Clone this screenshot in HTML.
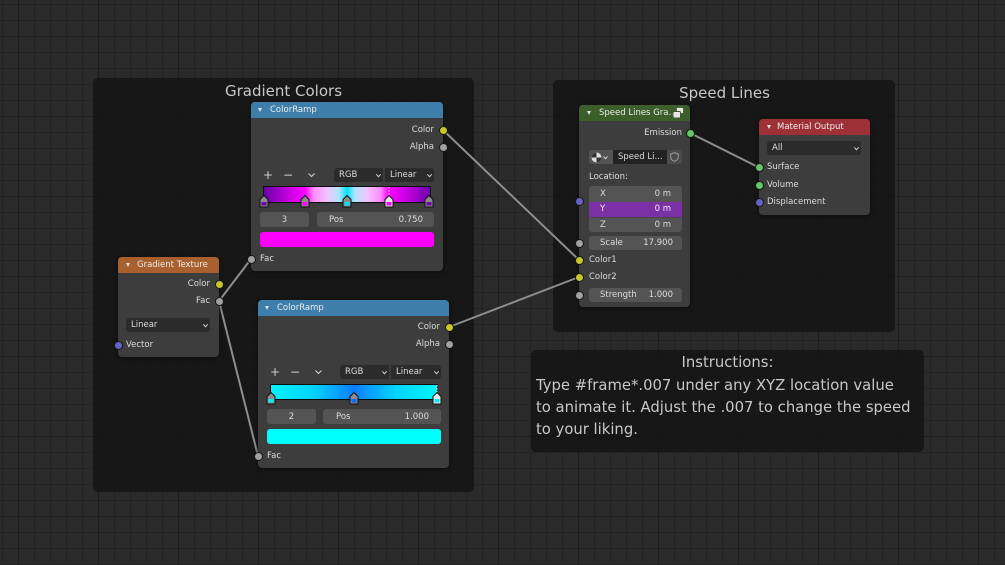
<!DOCTYPE html>
<html><head><meta charset="utf-8">
<style>
*{box-sizing:border-box;}
html,body{margin:0;padding:0;background:#292929;}
#root{position:relative;width:1005px;height:565px;overflow:hidden;
background-color:#2a2a2a;
background-image:
 linear-gradient(90deg,#1d1d1d 1px,transparent 1px),
 linear-gradient(180deg,#1d1d1d 1px,transparent 1px),
 linear-gradient(90deg,#232323 1px,transparent 1px),
 linear-gradient(180deg,#232323 1px,transparent 1px);
background-size:80px 80px,80px 80px,16px 16px,16px 16px;
background-position:18px 36px,18px 36px,2px 4px,2px 4px;
font-family:"DejaVu Sans","Liberation Sans",sans-serif;}
.fr{position:absolute;background:rgba(19,19,19,0.80);border-radius:5px;}
.ft{position:absolute;font-family:"DejaVu Sans",sans-serif;color:#c8c8c8;white-space:nowrap;}
.n{position:absolute;background:#3d3d3d;border-radius:4px;box-shadow:0 1px 4px rgba(0,0,0,.55);}
.h{position:absolute;left:0;top:0;right:0;height:16px;border-radius:4px 4px 0 0;}
.tri{position:absolute;width:0;height:0;border-left:2.5px solid transparent;border-right:2.5px solid transparent;border-top:4px solid #e0e0e0;}
.tx{position:absolute;font-family:"DejaVu Sans",sans-serif;font-size:8.5px;line-height:12px;color:#dcdcdc;white-space:nowrap;}
.ht{color:#ececec;}
.rt{text-align:right;}
.so{position:absolute;width:7px;height:7px;border-radius:50%;margin:-3.5px 0 0 -3.5px;box-shadow:0 0 0 1px #161616;}
.y{background:#c7c729;}.g{background:#a1a1a1;}.b{background:#6363c7;}.gr{background:#63c763;}
.dd{position:absolute;background:#2b2b2b;border-radius:3px;}
.fld{position:absolute;background:#545454;border-radius:3px;}
svg{position:absolute;overflow:visible;}
</style></head><body>
<div id="root">

<!-- Frames -->
<div class="fr" style="left:93px;top:78px;width:381px;height:414px;"></div>
<div class="ft" style="left:183px;top:82px;width:201px;text-align:center;font-size:15px;line-height:18px;">Gradient Colors</div>

<div class="fr" style="left:553px;top:80px;width:342px;height:252px;"></div>
<div class="ft" style="left:624px;top:84px;width:201px;text-align:center;font-size:15px;line-height:18px;">Speed Lines</div>

<div class="fr" style="left:531px;top:350px;width:393px;height:102px;"></div>
<div class="ft" style="left:627px;top:352px;width:201px;text-align:center;font-size:14.8px;line-height:22px;">Instructions:</div>
<div class="ft" style="left:536px;top:375px;font-size:14.8px;line-height:22px;">Type #frame*.007 under any XYZ location value<br>to animate it. Adjust the .007 to change the speed<br>to your liking.</div>

<!-- Links -->
<svg style="left:0;top:0;" width="1005" height="565">
<g stroke="#8e8e8e" stroke-width="2" stroke-linecap="round" fill="none">
<line x1="219" y1="301" x2="251" y2="259"/>
<line x1="219" y1="301" x2="258" y2="456"/>
<line x1="443" y1="130" x2="579" y2="260"/>
<line x1="449" y1="327" x2="579" y2="277"/>
<line x1="690" y1="133" x2="758" y2="167"/>
</g>
</svg>

<!-- ColorRamp 1 -->
<div class="n" style="left:251px;top:102px;width:192px;height:169px;">
 <div class="h" style="background:#3d7eab;"></div>
 <div class="tri" style="left:7px;top:6px;"></div>
 <div class="tx ht" style="left:19px;top:2px;">ColorRamp</div>
 <div class="tx rt" style="right:9px;top:22px;">Color</div>
 <div class="tx rt" style="right:9px;top:39px;">Alpha</div>
 <div class="so y" style="left:192px;top:28px;"></div>
 <div class="so g" style="left:192px;top:45px;"></div>
 <div class="tx" style="left:12px;top:66px;font-size:12px;line-height:14px;color:#d0d0d0;">+</div>
 <div class="tx" style="left:32px;top:66px;font-size:12px;line-height:14px;color:#d0d0d0;">−</div>
 <svg style="left:57px;top:71px;" width="7" height="5"><polyline points="0.5,0.5 3.5,3.5 6.5,0.5" stroke="#cfcfcf" stroke-width="1.1" fill="none"/></svg>
 <div class="dd" style="left:83px;top:66px;width:49px;height:14px;border-radius:3px 0 0 3px;">
  <div class="tx" style="left:5px;top:1px;">RGB</div>
  <svg style="left:42px;top:6px;" width="5" height="4"><polyline points="0.3,0.3 2.5,2.7 4.7,0.3" stroke="#cfcfcf" stroke-width="1" fill="none"/></svg>
 </div>
 <div class="dd" style="left:134px;top:66px;width:49px;height:14px;border-radius:0 3px 3px 0;">
  <div class="tx" style="left:5px;top:1px;">Linear</div>
  <svg style="left:42px;top:6px;" width="5" height="4"><polyline points="0.3,0.3 2.5,2.7 4.7,0.3" stroke="#cfcfcf" stroke-width="1" fill="none"/></svg>
 </div>
 <div style="position:absolute;left:12px;top:84px;width:168px;height:17px;border:1px solid #0c0c0c;background:linear-gradient(90deg,#6a00a8 0%,#c800e0 15%,#ff00ff 25%,#ff8cff 30%,#efc4ff 38%,#b4e4ff 45%,#00e2ff 50%,#b4e4ff 55%,#efc4ff 62%,#ff8cff 70%,#ff00ff 75%,#c800e0 86%,#6a00a8 100%);"></div>
 <svg style="left:0;top:0;" width="192" height="110">
  <line x1="138" y1="85" x2="138" y2="93" stroke="#fff" stroke-width="1" stroke-dasharray="1.5,1.5"/>
  <g stroke="#111" stroke-width="1">
   <path d="M9,105 L9,97.5 L13,93.5 L17,97.5 L17,105 Z" fill="#8c8c8c"/>
   <path d="M50,105 L50,97.5 L54,93.5 L58,97.5 L58,105 Z" fill="#8c8c8c"/>
   <path d="M92,105 L92,97.5 L96,93.5 L100,97.5 L100,105 Z" fill="#8c8c8c"/>
   <path d="M134,105 L134,97.5 L138,93.5 L142,97.5 L142,105 Z" fill="#e6e6e6"/>
   <path d="M174,105 L174,97.5 L178,93.5 L182,97.5 L182,105 Z" fill="#8c8c8c"/>
  </g>
  <rect x="10.5" y="100" width="5" height="3.5" fill="#7000b0"/>
  <rect x="51.5" y="100" width="5" height="3.5" fill="#ff00ff"/>
  <rect x="93.5" y="100" width="5" height="3.5" fill="#00e0ff"/>
  <rect x="135.5" y="100" width="5" height="3.5" fill="#ff00ff"/>
  <rect x="175.5" y="100" width="5" height="3.5" fill="#7000b0"/>
 </svg>
 <div class="fld" style="left:9px;top:110px;width:49px;height:15px;"><div class="tx" style="left:0;width:49px;text-align:center;top:1.5px;">3</div></div>
 <div class="fld" style="left:66px;top:110px;width:117px;height:15px;">
  <div class="tx" style="left:12px;top:1.5px;">Pos</div>
  <div class="tx rt" style="right:11px;top:1.5px;">0.750</div>
 </div>
 <div style="position:absolute;left:9px;top:130px;width:174px;height:15px;border-radius:3px;background:#ff00ff;"></div>
 <div class="tx" style="left:9px;top:151px;">Fac</div>
 <div class="so g" style="left:0;top:157px;"></div>
</div>

<!-- ColorRamp 2 -->
<div class="n" style="left:258px;top:300px;width:191px;height:168px;">
 <div class="h" style="background:#3d7eab;"></div>
 <div class="tri" style="left:7px;top:6px;"></div>
 <div class="tx ht" style="left:19px;top:2px;">ColorRamp</div>
 <div class="tx rt" style="right:9px;top:21px;">Color</div>
 <div class="tx rt" style="right:9px;top:38px;">Alpha</div>
 <div class="so y" style="left:191px;top:27px;"></div>
 <div class="so g" style="left:191px;top:44px;"></div>
 <div class="tx" style="left:12px;top:65px;font-size:12px;line-height:14px;color:#d0d0d0;">+</div>
 <div class="tx" style="left:32px;top:65px;font-size:12px;line-height:14px;color:#d0d0d0;">−</div>
 <svg style="left:57px;top:70px;" width="7" height="5"><polyline points="0.5,0.5 3.5,3.5 6.5,0.5" stroke="#cfcfcf" stroke-width="1.1" fill="none"/></svg>
 <div class="dd" style="left:82px;top:65px;width:49px;height:14px;border-radius:3px 0 0 3px;">
  <div class="tx" style="left:5px;top:1px;">RGB</div>
  <svg style="left:42px;top:6px;" width="5" height="4"><polyline points="0.3,0.3 2.5,2.7 4.7,0.3" stroke="#cfcfcf" stroke-width="1" fill="none"/></svg>
 </div>
 <div class="dd" style="left:133px;top:65px;width:50px;height:14px;border-radius:0 3px 3px 0;">
  <div class="tx" style="left:5px;top:1px;">Linear</div>
  <svg style="left:43px;top:6px;" width="5" height="4"><polyline points="0.3,0.3 2.5,2.7 4.7,0.3" stroke="#cfcfcf" stroke-width="1" fill="none"/></svg>
 </div>
 <div style="position:absolute;left:12px;top:84px;width:168px;height:16px;border:1px solid #0c0c0c;background:linear-gradient(90deg,#00f4ff 0%,#00d4ff 25%,#0a90ff 45%,#0a7cff 50%,#0a90ff 55%,#00d4ff 75%,#00f4ff 100%);"></div>
 <svg style="left:0;top:0;" width="191" height="110">
  <line x1="179" y1="85" x2="179" y2="93" stroke="#fff" stroke-width="1" stroke-dasharray="1.5,1.5"/>
  <g stroke="#111" stroke-width="1">
   <path d="M9,104 L9,96.5 L13,92.5 L17,96.5 L17,104 Z" fill="#8c8c8c"/>
   <path d="M92,104 L92,96.5 L96,92.5 L100,96.5 L100,104 Z" fill="#8c8c8c"/>
   <path d="M175,104 L175,96.5 L179,92.5 L183,96.5 L183,104 Z" fill="#e6e6e6"/>
  </g>
  <rect x="10.5" y="99" width="5" height="3.5" fill="#00f0ff"/>
  <rect x="93.5" y="99" width="5" height="3.5" fill="#0a6aff"/>
  <rect x="176.5" y="99" width="5" height="3.5" fill="#00f0ff"/>
 </svg>
 <div class="fld" style="left:9px;top:109px;width:49px;height:15px;"><div class="tx" style="left:0;width:49px;text-align:center;top:1.5px;">2</div></div>
 <div class="fld" style="left:65px;top:109px;width:118px;height:15px;">
  <div class="tx" style="left:13px;top:1.5px;">Pos</div>
  <div class="tx rt" style="right:12px;top:1.5px;">1.000</div>
 </div>
 <div style="position:absolute;left:9px;top:129px;width:174px;height:15px;border-radius:3px;background:#00ffff;"></div>
 <div class="tx" style="left:9px;top:150px;">Fac</div>
 <div class="so g" style="left:0;top:156px;"></div>
</div>

<!-- Gradient Texture -->
<div class="n" style="left:118px;top:257px;width:101px;height:100px;">
 <div class="h" style="background:#a9602f;"></div>
 <div class="tri" style="left:8px;top:6px;"></div>
 <div class="tx ht" style="left:19px;top:2px;">Gradient Texture</div>
 <div class="tx rt" style="right:9px;top:21px;">Color</div>
 <div class="tx rt" style="right:9px;top:38px;">Fac</div>
 <div class="so y" style="left:101px;top:27px;"></div>
 <div class="so g" style="left:101px;top:44px;"></div>
 <div class="dd" style="left:8px;top:61px;width:84px;height:14px;">
  <div class="tx" style="left:5px;top:1px;">Linear</div>
  <svg style="left:77px;top:6px;" width="5" height="4"><polyline points="0.3,0.3 2.5,2.7 4.7,0.3" stroke="#cfcfcf" stroke-width="1" fill="none"/></svg>
 </div>
 <div class="tx" style="left:8px;top:82px;">Vector</div>
 <div class="so b" style="left:0;top:88px;"></div>
</div>

<!-- Speed Lines Group -->
<div class="n" style="left:579px;top:105px;width:111px;height:202px;">
 <div class="h" style="background:#3c5e2b;"></div>
 <div class="tri" style="left:8px;top:6px;"></div>
 <div class="tx ht" style="left:20px;top:2px;">Speed Lines Gra…</div>
 <svg style="left:93px;top:2px;" width="13" height="12">
  <rect x="4.5" y="0.5" width="7" height="6" rx="1" fill="#e8e8e8" stroke="#3c5e2b" stroke-width="0.8"/>
  <rect x="1" y="4.5" width="7.5" height="6.5" rx="1" fill="#e8e8e8" stroke="#3c5e2b" stroke-width="1"/>
 </svg>
 <div class="tx rt" style="right:8px;top:22px;">Emission</div>
 <div class="so gr" style="left:111px;top:28px;"></div>
 <div class="fld" style="left:10px;top:45px;width:24px;height:14px;border-radius:3px 0 0 3px;">
  <svg style="left:2px;top:2px;" width="20" height="11">
   <circle cx="5.5" cy="5.5" r="5" fill="#e0e0e0"/>
   <path d="M5.5,5.5 L5.5,0.5 A5,5 0 0 0 0.5,5.5 Z" fill="#333"/>
   <path d="M5.5,5.5 L10.5,5.5 A5,5 0 0 1 5.5,10.5 Z" fill="#333"/>
   <polyline points="12.5,4.5 14.5,6.7 16.5,4.5" stroke="#d0d0d0" stroke-width="1" fill="none"/>
  </svg>
 </div>
 <div style="position:absolute;left:34px;top:45px;width:54px;height:14px;background:#222222;">
  <div class="tx" style="left:5px;top:1px;">Speed Li...</div>
 </div>
 <div class="fld" style="left:88px;top:45px;width:15px;height:14px;border-radius:0 3px 3px 0;background:#4b4b4b;">
  <svg style="left:3px;top:2px;" width="9" height="10"><path d="M4.5,0.7 L8.3,2 L8.3,5 Q8.3,8 4.5,9.3 Q0.7,8 0.7,5 L0.7,2 Z" fill="none" stroke="#9a9a9a" stroke-width="1"/></svg>
 </div>
 <div class="tx" style="left:10px;top:66px;">Location:</div>
 <div class="fld" style="left:10px;top:81px;width:93px;height:16px;border-radius:3px 3px 0 0;"></div>
 <div style="position:absolute;left:10px;top:97px;width:93px;height:15px;background:#7c30a6;"></div>
 <div class="fld" style="left:10px;top:112px;width:93px;height:15px;border-radius:0 0 3px 3px;border-top:1px solid #474747;"></div>
 <div class="tx" style="left:21px;top:83px;">X</div>
 <div class="tx rt" style="right:19px;top:83px;">0 m</div>
 <div class="tx" style="left:21px;top:98px;color:#f0f0f0;">Y</div>
 <div class="tx rt" style="right:19px;top:98px;color:#f0f0f0;">0 m</div>
 <div class="tx" style="left:21px;top:113.5px;">Z</div>
 <div class="tx rt" style="right:19px;top:113.5px;">0 m</div>
 <div class="so b" style="left:0;top:96px;"></div>
 <div class="fld" style="left:10px;top:131px;width:93px;height:14px;">
  <div class="tx" style="left:11px;top:1px;">Scale</div>
  <div class="tx rt" style="right:9px;top:1px;">17.900</div>
 </div>
 <div class="so g" style="left:0;top:138px;"></div>
 <div class="tx" style="left:10px;top:149px;">Color1</div>
 <div class="so y" style="left:0;top:155px;"></div>
 <div class="tx" style="left:10px;top:166px;">Color2</div>
 <div class="so y" style="left:0;top:172px;"></div>
 <div class="fld" style="left:10px;top:183px;width:93px;height:14px;">
  <div class="tx" style="left:11px;top:1px;">Strength</div>
  <div class="tx rt" style="right:9px;top:1px;">1.000</div>
 </div>
 <div class="so g" style="left:0;top:190px;"></div>
</div>

<!-- Material Output -->
<div class="n" style="left:759px;top:119px;width:111px;height:96px;">
 <div class="h" style="background:#9e3037;"></div>
 <div class="tri" style="left:8px;top:6px;"></div>
 <div class="tx ht" style="left:18px;top:2px;">Material Output</div>
 <div class="dd" style="left:8px;top:22px;width:94px;height:14px;">
  <div class="tx" style="left:5px;top:1px;">All</div>
  <svg style="left:87px;top:6px;" width="5" height="4"><polyline points="0.3,0.3 2.5,2.7 4.7,0.3" stroke="#cfcfcf" stroke-width="1" fill="none"/></svg>
 </div>
 <div class="tx" style="left:8px;top:42px;">Surface</div>
 <div class="so gr" style="left:0;top:48px;"></div>
 <div class="tx" style="left:8px;top:60px;">Volume</div>
 <div class="so gr" style="left:0;top:66px;"></div>
 <div class="tx" style="left:8px;top:77px;">Displacement</div>
 <div class="so b" style="left:0;top:83px;"></div>
</div>

</div>
</body></html>
